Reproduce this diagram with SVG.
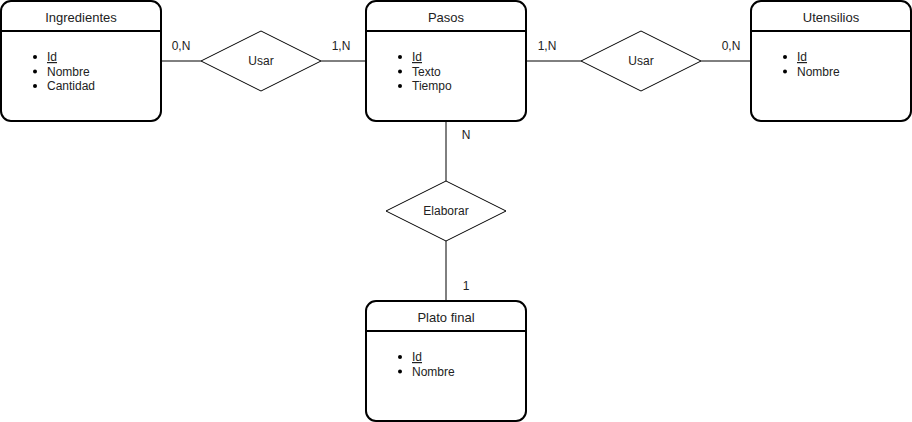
<svg xmlns="http://www.w3.org/2000/svg" width="912" height="422" viewBox="0 0 912 422">
<style>
.box{fill:#fff;stroke:#000;stroke-width:2}
.div{stroke:#000;stroke-width:2}
.dia{fill:#fff;stroke:#000;stroke-width:1}
.ln{stroke:#000;stroke-width:1;fill:none}
text{font-family:"Liberation Sans",Arial,sans-serif;fill:#222}
.t{font-size:13px;text-anchor:middle}
.a{font-size:12px}
.l{font-size:12px;text-anchor:middle}
.b{fill:#000}
</style>
<rect width="912" height="422" fill="#fff"/>
<g id="connectors">
<line class="ln" x1="161" y1="61" x2="201" y2="61"/>
<line class="ln" x1="321" y1="61" x2="366" y2="61"/>
<line class="ln" x1="526" y1="61" x2="581" y2="61"/>
<line class="ln" x1="701" y1="61" x2="751" y2="61"/>
<line class="ln" x1="446" y1="121" x2="446" y2="181"/>
<line class="ln" x1="446" y1="241" x2="446" y2="301"/>
<text class="l" x="181" y="50">0,N</text>
<text class="l" x="341" y="50">1,N</text>
<text class="l" x="547" y="50">1,N</text>
<text class="l" x="731" y="50">0,N</text>
<text class="l" x="466" y="139">N</text>
<text class="l" x="466" y="290">1</text>
</g>
<g id="ingredientes">
<rect class="box" x="1" y="1" width="160" height="120" rx="10"/>
<line class="div" x1="1" y1="31" x2="161" y2="31"/>
<text class="t" x="81" y="22">Ingredientes</text>
<circle class="b" cx="35" cy="57" r="2"/><text class="a" x="47" y="61" text-decoration="underline">Id</text>
<circle class="b" cx="35" cy="71.5" r="2"/><text class="a" x="47" y="75.5">Nombre</text>
<circle class="b" cx="35" cy="86" r="2"/><text class="a" x="47" y="90">Cantidad</text>
</g>
<g id="pasos">
<rect class="box" x="366" y="1" width="160" height="120" rx="10"/>
<line class="div" x1="366" y1="31" x2="526" y2="31"/>
<text class="t" x="446" y="22">Pasos</text>
<circle class="b" cx="400" cy="57" r="2"/><text class="a" x="412" y="61" text-decoration="underline">Id</text>
<circle class="b" cx="400" cy="71.5" r="2"/><text class="a" x="412" y="75.5">Texto</text>
<circle class="b" cx="400" cy="86" r="2"/><text class="a" x="412" y="90">Tiempo</text>
</g>
<g id="utensilios">
<rect class="box" x="751" y="1" width="160" height="120" rx="10"/>
<line class="div" x1="751" y1="31" x2="911" y2="31"/>
<text class="t" x="831" y="22">Utensilios</text>
<circle class="b" cx="785" cy="57" r="2"/><text class="a" x="797" y="61" text-decoration="underline">Id</text>
<circle class="b" cx="785" cy="71.5" r="2"/><text class="a" x="797" y="75.5">Nombre</text>
</g>
<g id="plato-final">
<rect class="box" x="366" y="301" width="160" height="120" rx="10"/>
<line class="div" x1="366" y1="331" x2="526" y2="331"/>
<text class="t" x="446" y="322">Plato final</text>
<circle class="b" cx="400" cy="357" r="2"/><text class="a" x="412" y="361" text-decoration="underline">Id</text>
<circle class="b" cx="400" cy="371.5" r="2"/><text class="a" x="412" y="375.5">Nombre</text>
</g>
<g id="usar-1">
<polygon class="dia" points="261,31 321,61 261,91 201,61"/>
<text class="l" x="261" y="65">Usar</text>
</g>
<g id="usar-2">
<polygon class="dia" points="641,31 701,61 641,91 581,61"/>
<text class="l" x="641" y="65">Usar</text>
</g>
<g id="elaborar">
<polygon class="dia" points="446,181 506,211 446,241 386,211"/>
<text class="l" x="446" y="215">Elaborar</text>
</g>
</svg>
